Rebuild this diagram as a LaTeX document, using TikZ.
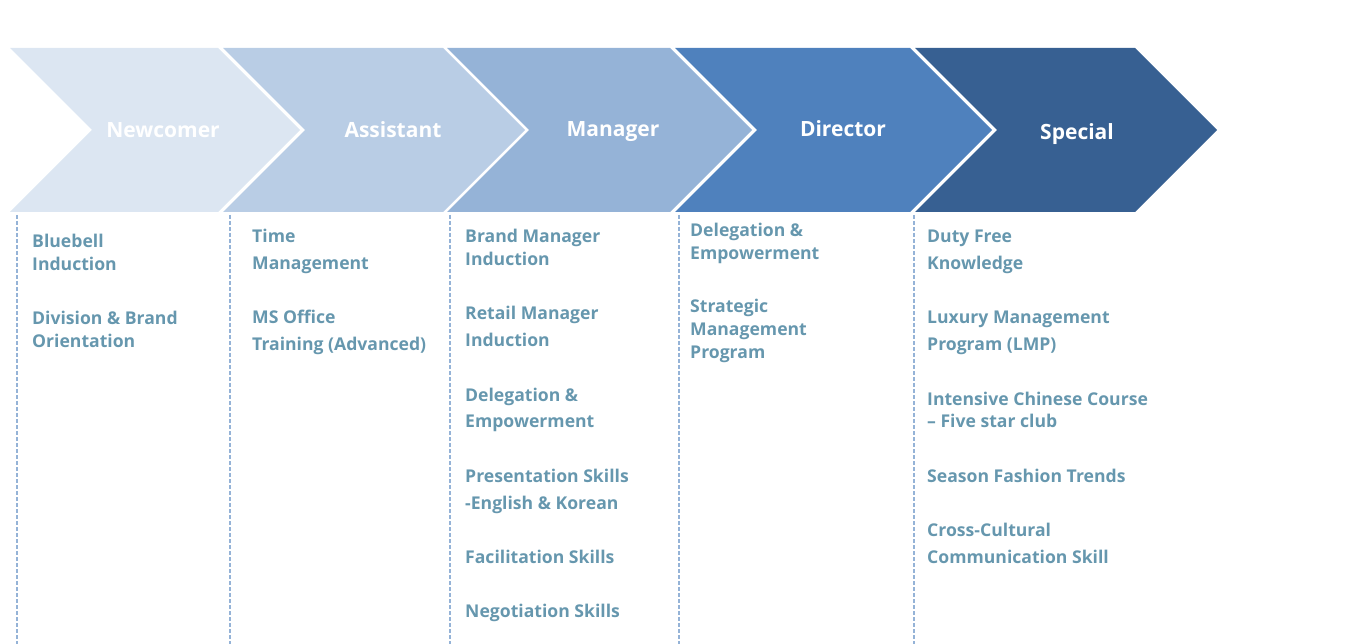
\documentclass[tikz,border=0pt]{standalone}
\usepackage{fontspec}
\setmainfont{Open Sans}
\definecolor{newcomerfill}{HTML}{DCE6F2}
\definecolor{assistantfill}{HTML}{B9CDE5}
\definecolor{managerfill}{HTML}{95B3D7}
\definecolor{directorfill}{HTML}{4F81BD}
\definecolor{specialfill}{HTML}{376092}
\definecolor{coursetext}{HTML}{6697AE}
\definecolor{dividerblue}{HTML}{95B3D7}

\begin{document}
\begin{tikzpicture}[x=1pt,y=-1pt,
  stage/.style={anchor=base,text=white,inner sep=0pt,font=\fontsize{21}{24}\selectfont\bfseries},
  course/.style={anchor=base west,align=left,text=coursetext,inner sep=0pt,
    font=\fontsize{17.6}{23}\selectfont\bfseries},
  divider/.style={draw=dividerblue,line width=1.2pt,dash pattern=on 4pt off 2pt}]
\useasboundingbox (0,0) rectangle (1366,644);

% chevrons
\fill[newcomerfill] (10,48) -- (218,48) -- (300,130) -- (218,212) -- (10,212) -- (92,130) -- cycle;
\fill[assistantfill] (223,48) -- (443,48) -- (525,130) -- (443,212) -- (223,212) -- (305,130) -- cycle;
\fill[managerfill] (447,48) -- (670,48) -- (752,130) -- (670,212) -- (447,212) -- (529,130) -- cycle;
\fill[directorfill] (675,48) -- (910,48) -- (992,130) -- (910,212) -- (675,212) -- (757,130) -- cycle;
\fill[specialfill] (915,48) -- (1135,48) -- (1217,130) -- (1135,212) -- (915,212) -- (997,130) -- cycle;

\node[stage] (newcomer) at (163,138) {Newcomer};
\node[stage] (assistant) at (393,138) {Assistant};
\node[stage] (manager) at (613,137) {Manager};
\node[stage] (director) at (843,137) {Director};
\node[stage] (special) at (1077,140) {Special};

% column dividers
\draw[divider] (17,215) -- (17,644);
\draw[divider] (230,215) -- (230,644);
\draw[divider] (450,215) -- (450,644);
\draw[divider] (679,215) -- (679,644);
\draw[divider] (914,215) -- (914,644);

% newcomer courses (placed at the baseline of the last line)
\node[course] (bluebell) at (32,271) {Bluebell\\Induction};
\node[course] (division) at (32,348) {Division \& Brand\\Orientation};

% assistant courses
\node[course] (time) at (252,270) {Time\\[4pt]Management};
\node[course] (msoffice) at (252,351) {MS Office\\[4pt]Training (Advanced)};

% manager courses
\node[course] (brandmgr) at (465,266) {Brand Manager\\Induction};
\node[course] (retailmgr) at (465,347) {Retail Manager\\[4pt]Induction};
\node[course] (delegmgr) at (465,428) {Delegation \&\\[4pt]Empowerment};
\node[course] (present) at (465,509) {Presentation Skills\\[4pt]-English \& Korean};
\node[course] (facil) at (465,563) {Facilitation Skills};
\node[course] (negot) at (465,617) {Negotiation Skills};

% director courses
\node[course] (delegdir) at (690,260) {Delegation \&\\Empowerment};
\node[course] (strategic) at (690,359) {Strategic\\Management\\Program};

% special courses
\node[course] (dutyfree) at (927,270) {Duty Free\\[4pt]Knowledge};
\node[course] (luxury) at (927,351) {Luxury Management\\[4pt]Program (LMP)};
\node[course] (chinese) at (927,428) {Intensive Chinese Course\\– Five star club};
\node[course] (fashion) at (927,482) {Season Fashion Trends};
\node[course] (crosscult) at (927,563) {Cross-Cultural\\[4pt]Communication Skill};
\end{tikzpicture}
\end{document}
